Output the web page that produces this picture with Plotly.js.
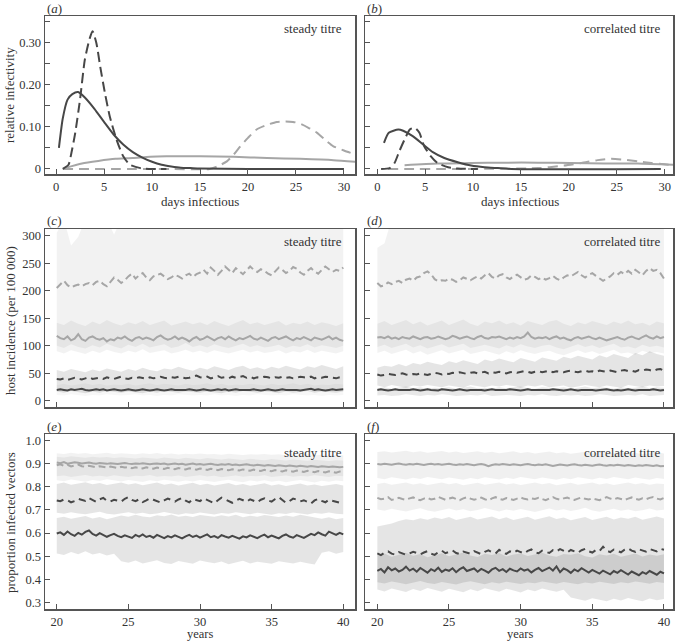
<!DOCTYPE html>
<html>
<head>
<meta charset="utf-8">
<script src="https://cdn.plot.ly/plotly-3.0.1.min.js"></script>
<style>
  html, body { margin: 0; padding: 0; background: #fff; }
  #chart { width: 676px; height: 642px; }
</style>
</head>
<body>
<div id="chart"></div>
<script>
/* ── data: relative infectivity curves (days infectious) ─────────── */
const aDaysDS = [0.3, 0.7, 1.2, 1.7, 2.3, 3, 4, 5, 6, 7, 8, 9, 10, 11, 12, 13, 14, 15, 20, 25, 30];
const aDS = [0.050, 0.120, 0.165, 0.178, 0.183, 0.170, 0.143, 0.112, 0.082, 0.058, 0.040, 0.027, 0.017, 0.010, 0.006, 0.003, 0.002, 0.001, 0, 0, 0];
const aDaysDD = [0.7, 1.3, 1.6, 2, 2.5, 3, 3.5, 3.8, 4.2, 4.6, 5.1, 5.6, 6.3, 7, 7.7, 8.8, 10, 11.5];
const aDD = [0, 0.01, 0.038, 0.086, 0.165, 0.26, 0.31, 0.328, 0.30, 0.244, 0.18, 0.125, 0.07, 0.03, 0.01, 0.002, 0, 0];
const aDaysLD = [0.7, 12, 16, 16.8, 17.8, 18.5, 19.2, 20, 20.9, 22, 23, 23.9, 24.7, 25.4, 26.3, 27.2, 28, 28.9, 30, 31.2];
const aLD = [0, 0, 0, 0.006, 0.018, 0.034, 0.054, 0.074, 0.094, 0.105, 0.112, 0.113, 0.112, 0.108, 0.098, 0.086, 0.07, 0.054, 0.044, 0.034];
const aDaysLS = [0.9, 2.7, 4.4, 6.2, 8, 9.8, 11.5, 15, 18.5, 22, 25.4, 28.9, 31.2];
const aLS = [0.002, 0.013, 0.019, 0.024, 0.026, 0.029, 0.030, 0.030, 0.029, 0.026, 0.024, 0.021, 0.017];

const bDaysDS = [0.7, 1.2, 2.2, 2.7, 3.7, 4.8, 5.8, 7, 8.4, 9.8, 11.2, 12.6, 14, 29.6];
const bDS = [0.062, 0.086, 0.094, 0.091, 0.078, 0.058, 0.040, 0.026, 0.016, 0.008, 0.004, 0.002, 0, 0];
const bDaysDD = [0.4, 1.3, 1.8, 2.3, 2.85, 3.4, 3.9, 4.4, 4.9, 5.6, 6.3, 7.4, 8.4, 10.5];
const bDD = [0, 0.002, 0.014, 0.042, 0.07, 0.094, 0.098, 0.086, 0.054, 0.03, 0.014, 0.004, 0.001, 0];
const bDaysLD = [1.1, 16.8, 19.5, 21.3, 23, 24.4, 25.8, 27.2, 28.6, 30, 30.9];
const bLD = [0, 0.002, 0.008, 0.014, 0.021, 0.024, 0.022, 0.018, 0.014, 0.011, 0.009];
const bDaysLS = [2.85, 6.3, 9.8, 13.3, 16.8, 20.2, 23.7, 27.2, 30.9];
const bLS = [0.009, 0.013, 0.014, 0.015, 0.015, 0.014, 0.013, 0.013, 0.010];

/* ── data: host incidence, steady titre (quarter-year means) ─────── */
const cLD = [205,212,218,210,206,209,211,208,212,214, 210,216,218,212,208,216,224,220,214,219,
  226,231,222,228,232,224,219,226,229,231, 226,221,224,229,226,222,228,231,225,230,
  233,238,231,242,236,229,236,244,238,232, 241,236,230,237,244,238,234,239,236,231,
  228,235,242,238,232,236,243,240,233,229, 236,241,235,231,238,244,239,234,238,236, 242];
const cLS = [118,114,112,117,110,113,121,112,109,115, 117,113,111,114,108,112,110,115,113,117,
  112,109,114,116,112,115,113,110,116,119, 114,111,113,117,112,115,112,108,113,116,
  111,113,117,114,110,114,116,112,117,113, 110,114,112,115,118,113,111,115,112,109,
  114,116,112,115,117,113,110,114,112,116, 113,110,115,113,111,114,117,112,115,111, 109];
const cDD = [40,39,41,38,40,42,40,39,41,43, 40,41,42,40,43,41,40,42,44,41,
  40,42,41,43,42,40,43,41,42,44, 42,41,43,42,44,43,41,42,44,46,
  43,42,44,41,43,45,42,43,41,44, 42,43,45,42,44,41,43,42,44,43,
  41,43,42,44,42,43,41,42,44,43, 42,44,41,43,42,44,43,42,41,43, 44];
const cDS = [20,21,20,19,21,20,21,22,20,19, 20,21,20,21,19,20,21,20,19,20,
  21,20,19,20,21,20,19,20,21,20, 19,20,21,20,20,19,20,21,20,19,
  20,21,20,19,20,21,20,21,19,20, 21,20,20,19,20,21,20,19,20,21,
  20,19,20,21,20,20,21,20,19,20, 21,22,20,21,20,19,20,21,20,20, 21];
/* bands (half-year) */
const cLDlo = [100,96,103,98,95,101,97,104,99,95, 102,98,104,97,100,103,96,99,105,98,
  101,97,103,99,96,100,104,98,101,97, 99,102,96,100,98,103,97,101,99,96, 100];
const cLDhi = [305,330,282,298,330,330,330,330,302,330, 330,330,330,330,330,330,330,330,330,330,
  330,330,330,330,330,330,330,330,330,330, 330,330,330,330,330,330,330,330,330,330, 330];
const cLSlo = [90,86,92,88,85,91,87,93,89,86, 91,88,94,87,90,92,86,89,93,88,
  91,87,92,89,86,90,93,88,91,87, 89,92,86,90,88,93,87,91,89,86, 90];
const cLShi = [142,138,146,140,136,144,139,147,141,137, 143,139,145,138,142,146,137,141,144,139,
  143,138,145,140,136,142,147,139,143,138, 141,145,137,142,139,144,138,143,140,136, 141];
const cDDlo = [17,15,18,16,14,17,15,18,16,15, 17,16,14,17,15,18,16,15,17,16,
  15,17,16,14,17,15,18,16,15,17, 16,14,17,15,16,18,15,17,16,15, 17];
const cDDhi = [56,53,58,55,52,57,54,59,56,53, 58,55,60,56,54,59,57,62,58,55,
  60,57,63,59,56,61,64,58,61,57, 62,59,64,60,57,63,60,65,61,58, 63];
const cDSlo = [11,10,12,10,9,11,10,12,11,10, 11,12,10,11,9,11,10,12,11,10,
  11,10,12,10,11,9,11,10,12,11, 10,11,10,12,11,10,11,9,11,10, 11];
const cDShi = [29,31,28,30,32,29,31,28,30,29, 31,28,30,32,29,31,30,28,31,29,
  30,32,29,31,28,30,29,31,30,28, 31,29,30,32,29,31,28,30,29,31, 30];

/* ── data: host incidence, correlated titre ──────────────────────── */
const dLD = [214,208,210,215,212,216,218,214,220,222, 218,224,226,232,235,230,221,217,219,218,
  222,220,216,219,224,221,219,223,226,222, 228,232,225,222,228,230,224,221,226,229,
  224,220,222,228,225,221,224,220,223,227, 222,219,224,228,226,230,234,228,224,229,
  232,227,222,218,222,226,232,229,234,230, 236,231,238,233,228,236,241,236,238,232, 222];
const dLS = [115,116,114,117,113,115,112,116,114,113, 117,114,112,115,116,113,114,117,115,112,
  114,118,116,113,115,117,114,112,116,118, 114,113,116,115,117,114,112,115,113,116,
  114,117,124,116,113,115,114,116,112,115, 117,113,115,112,110,114,116,113,115,117,
  114,112,115,113,110,112,114,116,113,111, 115,117,114,112,116,119,115,113,117,114, 116];
const dDD = [48,46,47,49,48,47,49,50,48,47, 49,48,50,49,47,49,51,50,48,50,
  49,51,50,52,51,49,51,52,50,51, 53,50,52,51,53,52,50,52,53,51,
  52,54,53,51,53,54,52,53,55,52, 54,53,52,54,55,53,52,54,55,53,
  54,52,55,54,53,55,54,52,55,56, 54,55,53,56,55,57,56,54,57,58, 55];
const dDS = [20,21,20,19,20,21,20,20,19,20, 21,20,19,20,21,20,20,19,21,20,
  20,19,20,21,20,19,20,20,21,20, 19,20,21,20,20,19,20,21,20,20,
  19,20,21,20,20,19,20,19,20,21, 20,20,19,20,21,20,19,20,20,21,
  20,19,20,20,21,20,19,20,19,20, 21,20,19,20,20,19,20,21,20,19, 20];
const dLDlo = [98,102,96,100,104,97,101,95,99,103, 97,100,104,96,99,102,98,95,101,97,
  103,99,96,100,102,97,94,99,103,98, 101,96,100,104,97,99,95,102,98,100, 97];
const dLDhi = [278,286,330,330,330,330,330,330,330,330, 330,330,330,330,330,330,330,330,330,330,
  330,330,330,330,330,330,330,330,330,330, 330,330,330,330,330,330,330,330,330,330, 330];
const dLSlo = [87,91,85,89,93,86,90,84,88,92, 86,89,93,85,88,91,87,84,90,86,
  92,88,85,89,91,86,83,88,92,87, 90,85,89,93,86,88,84,91,87,89, 86];
const dLShi = [140,145,138,143,147,139,144,137,142,146, 138,143,148,140,136,144,141,146,139,143,
  137,145,142,138,144,147,140,136,143,139, 145,141,138,144,140,146,139,142,137,144, 141];
const dDDlo = [28,25,29,26,24,28,26,29,27,25, 28,26,24,29,27,25,28,26,29,27,
  24,28,26,29,25,27,28,24,26,29, 27,25,28,26,24,29,27,25,28,26, 27];
const dDDhi = [60,64,62,67,63,69,66,71,68,65, 72,69,74,70,67,75,72,77,73,70,
  78,74,71,79,76,73,80,77,82,78, 75,83,79,85,81,78,87,83,90,85, 82];
const dDSlo = [10,11,9,10,12,10,9,11,10,12, 11,9,10,11,10,12,9,10,11,10,
  9,11,10,12,10,9,11,10,11,9, 10,12,11,9,10,11,10,12,9,10, 11];
const dDShi = [23,25,22,24,26,23,25,22,24,23, 25,22,24,26,23,24,22,25,23,24,
  26,23,22,25,24,23,25,22,24,26, 23,25,24,22,25,23,24,26,23,25, 24];

/* ── data: proportion infected vectors, steady titre ─────────────── */
const eLS = [0.905,0.902,0.907,0.900,0.903,0.906,0.904,0.901,0.903,0.905, 0.902,0.900,0.903,0.901,0.899,0.902,0.900,0.898,0.901,0.903,
  0.900,0.898,0.901,0.899,0.902,0.900,0.897,0.899,0.901,0.898, 0.900,0.896,0.898,0.900,0.897,0.899,0.895,0.898,0.900,0.896,
  0.898,0.895,0.897,0.899,0.896,0.894,0.897,0.895,0.898,0.894, 0.896,0.893,0.895,0.897,0.894,0.892,0.895,0.893,0.891,0.894,
  0.892,0.890,0.893,0.891,0.889,0.892,0.890,0.888,0.891,0.889, 0.887,0.890,0.888,0.886,0.889,0.887,0.885,0.888,0.886,0.884, 0.886];
const eLD = [0.893,0.897,0.890,0.895,0.888,0.892,0.896,0.889,0.886,0.891, 0.888,0.884,0.889,0.886,0.883,0.887,0.885,0.881,0.886,0.883,
  0.885,0.880,0.884,0.882,0.879,0.884,0.881,0.878,0.883,0.880, 0.877,0.882,0.879,0.876,0.881,0.878,0.875,0.880,0.877,0.874,
  0.879,0.876,0.873,0.878,0.875,0.872,0.877,0.874,0.871,0.876, 0.873,0.870,0.875,0.872,0.869,0.874,0.871,0.868,0.873,0.870,
  0.867,0.872,0.869,0.866,0.871,0.868,0.865,0.870,0.867,0.864, 0.869,0.866,0.863,0.868,0.865,0.862,0.867,0.864,0.861,0.866, 0.866];
const eDD = [0.741,0.738,0.745,0.742,0.733,0.738,0.748,0.744,0.739,0.751, 0.742,0.735,0.746,0.752,0.740,0.737,0.744,0.741,0.736,0.748,
  0.755,0.743,0.738,0.746,0.734,0.741,0.750,0.744,0.737,0.732, 0.741,0.749,0.743,0.736,0.745,0.752,0.740,0.733,0.747,0.741,
  0.738,0.750,0.744,0.736,0.729,0.742,0.753,0.746,0.738,0.731, 0.740,0.748,0.742,0.735,0.746,0.739,0.733,0.744,0.750,0.741,
  0.736,0.747,0.755,0.743,0.731,0.738,0.749,0.744,0.737,0.742, 0.735,0.728,0.741,0.748,0.739,0.733,0.744,0.740,0.735,0.731, 0.738];
const eDS = [0.598,0.603,0.592,0.607,0.595,0.588,0.601,0.593,0.605,0.611, 0.596,0.589,0.600,0.593,0.584,0.591,0.597,0.588,0.582,0.590,
  0.586,0.579,0.592,0.585,0.594,0.583,0.588,0.580,0.592,0.586, 0.578,0.587,0.581,0.590,0.584,0.577,0.586,0.592,0.583,0.589,
  0.580,0.588,0.594,0.582,0.587,0.579,0.591,0.585,0.580,0.588, 0.583,0.576,0.586,0.581,0.590,0.584,0.578,0.587,0.593,0.582,
  0.589,0.583,0.577,0.588,0.594,0.585,0.580,0.591,0.586,0.579, 0.588,0.597,0.591,0.603,0.595,0.589,0.606,0.598,0.592,0.601, 0.594];
const eLSlo = [0.845,0.849,0.842,0.847,0.851,0.844,0.848,0.843,0.850,0.846, 0.842,0.848,0.845,0.851,0.843,0.847,0.844,0.849,0.842,0.846,
  0.850,0.844,0.848,0.841,0.846,0.849,0.843,0.847,0.845,0.850, 0.842,0.846,0.849,0.843,0.847,0.844,0.850,0.845,0.842,0.848, 0.845];
const eLShi = [0.945,0.942,0.947,0.943,0.946,0.941,0.944,0.947,0.942,0.945, 0.943,0.940,0.945,0.942,0.946,0.941,0.944,0.939,0.943,0.941,
  0.944,0.940,0.942,0.938,0.943,0.940,0.937,0.941,0.939,0.942, 0.938,0.940,0.936,0.939,0.937,0.940,0.936,0.938,0.935,0.937, 0.936];
const eLDlo = [0.828,0.824,0.831,0.826,0.822,0.829,0.825,0.832,0.827,0.823, 0.829,0.826,0.821,0.828,0.824,0.830,0.825,0.822,0.827,0.823,
  0.829,0.825,0.821,0.826,0.830,0.824,0.820,0.827,0.823,0.828, 0.822,0.826,0.820,0.825,0.829,0.823,0.819,0.826,0.822,0.827, 0.824];
const eLDhi = [0.930,0.927,0.932,0.928,0.925,0.930,0.926,0.929,0.924,0.928, 0.925,0.922,0.927,0.924,0.921,0.926,0.923,0.920,0.925,0.922,
  0.919,0.924,0.921,0.918,0.922,0.919,0.916,0.921,0.918,0.915, 0.920,0.917,0.914,0.918,0.915,0.912,0.917,0.914,0.911,0.915, 0.913];
const eDDlo = [0.688,0.683,0.690,0.685,0.681,0.687,0.692,0.684,0.680,0.686, 0.690,0.683,0.688,0.681,0.685,0.691,0.684,0.679,0.686,0.682,
  0.689,0.684,0.680,0.687,0.683,0.690,0.685,0.681,0.688,0.684, 0.679,0.686,0.682,0.689,0.685,0.680,0.687,0.683,0.689,0.684, 0.681];
const eDDhi = [0.812,0.818,0.809,0.815,0.820,0.811,0.816,0.808,0.814,0.819, 0.810,0.815,0.807,0.813,0.818,0.809,0.814,0.806,0.812,0.817,
  0.808,0.813,0.805,0.811,0.816,0.807,0.812,0.804,0.810,0.815, 0.806,0.811,0.803,0.809,0.814,0.805,0.810,0.803,0.808,0.812, 0.806];
const eDSlo = [0.512,0.505,0.518,0.509,0.521,0.507,0.514,0.503,0.511,
  0.478,0.472,0.481,0.469,0.476,0.483,0.471,0.466,0.479,0.474, 0.468,0.481,0.475,0.470,0.477,0.465,0.473,0.480,0.469,0.476,
  0.471,0.467,0.478,0.473,0.469,0.476,0.470,0.464, 0.515,0.522,0.511,0.518];
const eDShi = [0.665,0.671,0.662,0.668,0.674,0.663,0.669,0.660,0.667,
  0.676,0.670,0.679,0.672,0.668,0.677,0.673,0.680,0.671,0.675, 0.669,0.678,0.674,0.670,0.677,0.672,0.679,0.668,0.675,0.671,
  0.678,0.673,0.669,0.676,0.671,0.679,0.674,0.670, 0.662,0.668,0.660,0.665];

/* ── data: proportion infected vectors, correlated titre ─────────── */
const fLS = [0.898,0.896,0.899,0.897,0.895,0.898,0.900,0.897,0.895,0.898, 0.896,0.899,0.897,0.894,0.897,0.899,0.896,0.898,0.895,0.897,
  0.899,0.896,0.894,0.897,0.895,0.898,0.896,0.893,0.896,0.898, 0.895,0.889,0.894,0.897,0.895,0.898,0.896,0.894,0.897,0.895,
  0.893,0.896,0.898,0.895,0.893,0.896,0.894,0.897,0.895,0.890, 0.893,0.896,0.894,0.892,0.895,0.897,0.894,0.892,0.895,0.893,
  0.891,0.894,0.896,0.893,0.891,0.894,0.892,0.895,0.893,0.891, 0.894,0.892,0.890,0.893,0.891,0.894,0.892,0.890,0.893,0.889, 0.890];
const fLD = [0.752,0.746,0.749,0.755,0.743,0.748,0.752,0.747,0.744,0.750, 0.754,0.746,0.742,0.749,0.753,0.745,0.748,0.756,0.751,0.744,
  0.749,0.753,0.747,0.742,0.750,0.755,0.749,0.744,0.748,0.753, 0.746,0.741,0.750,0.755,0.748,0.744,0.751,0.747,0.743,0.749,
  0.754,0.748,0.745,0.750,0.747,0.752,0.746,0.742,0.749,0.755, 0.748,0.744,0.750,0.753,0.747,0.743,0.749,0.754,0.748,0.745,
  0.750,0.747,0.742,0.749,0.755,0.749,0.745,0.751,0.747,0.743, 0.749,0.754,0.748,0.744,0.750,0.746,0.752,0.756,0.749,0.745, 0.752];
const fDD = [0.512,0.505,0.515,0.521,0.511,0.507,0.518,0.513,0.506,0.512, 0.519,0.514,0.508,0.516,0.522,0.511,0.506,0.517,0.524,0.513,
  0.518,0.525,0.514,0.509,0.520,0.516,0.511,0.522,0.515,0.509, 0.519,0.525,0.517,0.512,0.528,0.516,0.510,0.521,0.515,0.524,
  0.518,0.512,0.523,0.529,0.517,0.513,0.524,0.519,0.514,0.526, 0.520,0.531,0.522,0.516,0.527,0.521,0.515,0.526,0.532,0.521,
  0.516,0.527,0.522,0.541,0.524,0.518,0.529,0.523,0.517,0.528, 0.534,0.524,0.519,0.530,0.525,0.520,0.531,0.526,0.521,0.532, 0.528];
const fDS = [0.437,0.445,0.430,0.452,0.439,0.447,0.434,0.441,0.455,0.438, 0.446,0.433,0.449,0.440,0.429,0.444,0.436,0.450,0.432,0.442,
  0.437,0.448,0.431,0.444,0.452,0.436,0.441,0.447,0.433,0.445, 0.438,0.429,0.443,0.450,0.437,0.444,0.432,0.446,0.439,0.434,
  0.447,0.438,0.443,0.430,0.441,0.449,0.436,0.444,0.451,0.438, 0.456,0.431,0.447,0.440,0.428,0.443,0.435,0.448,0.437,0.429,
  0.441,0.433,0.425,0.438,0.431,0.422,0.436,0.428,0.440,0.430, 0.421,0.434,0.426,0.418,0.431,0.424,0.436,0.428,0.420,0.433, 0.426];
const fLSlo = [0.838,0.833,0.841,0.836,0.831,0.839,0.834,0.842,0.837,0.832, 0.840,0.835,0.830,0.838,0.833,0.841,0.836,0.831,0.839,0.834,
  0.842,0.837,0.832,0.840,0.835,0.830,0.838,0.833,0.841,0.836, 0.831,0.839,0.834,0.842,0.837,0.832,0.840,0.835,0.830,0.838, 0.834];
const fLShi = [0.950,0.954,0.948,0.952,0.956,0.949,0.953,0.947,0.951,0.955, 0.948,0.952,0.946,0.950,0.954,0.947,0.951,0.945,0.949,0.953,
  0.946,0.950,0.944,0.948,0.952,0.945,0.949,0.943,0.947,0.951, 0.944,0.948,0.942,0.946,0.950,0.943,0.947,0.941,0.945,0.949, 0.944];
const fLDlo = [0.702,0.696,0.705,0.699,0.693,0.701,0.707,0.698,0.692,0.700, 0.706,0.697,0.703,0.694,0.700,0.708,0.699,0.693,0.702,0.696,
  0.704,0.698,0.691,0.700,0.706,0.697,0.703,0.695,0.701,0.709, 0.698,0.692,0.700,0.705,0.696,0.702,0.694,0.699,0.706,0.697, 0.701];
const fLDhi = [0.812,0.817,0.809,0.814,0.819,0.810,0.815,0.808,0.813,0.818, 0.811,0.816,0.807,0.812,0.817,0.809,0.814,0.819,0.810,0.815,
  0.808,0.813,0.818,0.811,0.816,0.807,0.812,0.817,0.809,0.814, 0.819,0.810,0.815,0.808,0.813,0.818,0.811,0.816,0.809,0.814, 0.812];
const fDDlo = [0.388,0.382,0.391,0.385,0.379,0.387,0.393,0.384,0.380,0.389, 0.383,0.378,0.386,0.392,0.384,0.379,0.388,0.382,0.390,0.385,
  0.380,0.387,0.383,0.391,0.386,0.381,0.389,0.384,0.379,0.387, 0.382,0.390,0.385,0.380,0.388,0.383,0.391,0.386,0.381,0.389, 0.384];
const fDDhi = [0.628,0.635,0.641,0.652,0.660,0.655,0.664,0.658,0.667,0.661, 0.669,0.657,0.663,0.671,0.659,0.666,0.672,0.660,0.668,0.656,
  0.664,0.670,0.658,0.666,0.673,0.661,0.667,0.655,0.663,0.669, 0.657,0.665,0.671,0.659,0.667,0.662,0.670,0.658,0.666,0.672, 0.663];
const fDSlo = [0.356,0.348,0.361,0.352,0.345,0.358,0.350,0.363,0.354,0.347, 0.359,0.351,0.344,0.357,0.349,0.362,0.353,0.346,0.360,0.352,
  0.343,0.356,0.349,0.361,0.353,0.347,0.355, 0.322,0.314,0.308,0.318,0.311,0.305,0.316,0.309,0.320,0.312,0.306,0.317,0.310,0.315];
const fDShi = [0.505,0.512,0.498,0.508,0.515,0.502,0.510,0.496,0.506,0.513, 0.500,0.509,0.516,0.503,0.497,0.511,0.505,0.514,0.499,0.507,
  0.512,0.501,0.508,0.515,0.503,0.498,0.510,0.506,0.513,0.500, 0.495,0.508,0.503,0.511,0.498,0.505,0.512,0.499,0.507,0.502, 0.509];

/* ── styling ─────────────────────────────────────────────────────── */
const W = 676, H = 642;
const FONT = "'Liberation Serif', 'DejaVu Serif', serif";
const DARK = '#474747';
const LIGHT = '#a6a6a6';
const AXIS = '#555555';

// years from 20 to 40 spread evenly over the samples of a series
const yearsFor = arr => arr.map((_, i) => 20 + 20 * i / (arr.length - 1));

const traces = [];

function band(xa, ya, lo, hi, alpha) {
  const xs = yearsFor(lo);
  traces.push({
    type: 'scatter', mode: 'lines', xaxis: xa, yaxis: ya,
    x: xs.concat(xs.slice().reverse()),
    y: hi.concat(lo.slice().reverse()),
    fill: 'toself', fillcolor: `rgba(0,0,0,${alpha})`,
    line: { width: 0 }, hoverinfo: 'skip', showlegend: false,
  });
}

function line(xa, ya, x, y, color, dash, shape) {
  traces.push({
    type: 'scatter', mode: 'lines', xaxis: xa, yaxis: ya,
    x: x, y: y,
    line: { color, width: 2, dash: dash || 'solid', shape: shape || 'linear', smoothing: 0.6 },
    showlegend: false,
  });
}

// top row
line('x', 'y', aDaysLS, aLS, LIGHT, 'solid', 'spline');
line('x', 'y', aDaysLD, aLD, LIGHT, '10px,6px', 'spline');
line('x', 'y', aDaysDS, aDS, DARK, 'solid', 'spline');
line('x', 'y', aDaysDD, aDD, DARK, '10px,5px', 'spline');
line('x2', 'y2', bDaysLS, bLS, LIGHT, 'solid', 'spline');
line('x2', 'y2', bDaysLD, bLD, LIGHT, '10px,6px', 'spline');
line('x2', 'y2', bDaysDS, bDS, DARK, 'solid', 'spline');
line('x2', 'y2', bDaysDD, bDD, DARK, '10px,5px', 'spline');

// middle row
band('x3', 'y3', cLDlo, cLDhi, 0.05);
band('x3', 'y3', cLSlo, cLShi, 0.05);
band('x3', 'y3', cDDlo, cDDhi, 0.10);
band('x3', 'y3', cDSlo, cDShi, 0.03);
band('x4', 'y4', dLDlo, dLDhi, 0.05);
band('x4', 'y4', dLSlo, dLShi, 0.05);
band('x4', 'y4', dDDlo, dDDhi, 0.10);
band('x4', 'y4', dDSlo, dDShi, 0.09);
line('x3', 'y3', yearsFor(cLD), cLD, LIGHT, '7px,4px');
line('x3', 'y3', yearsFor(cLS), cLS, LIGHT);
line('x3', 'y3', yearsFor(cDD), cDD, DARK, '7px,5px');
line('x3', 'y3', yearsFor(cDS), cDS, DARK);
line('x4', 'y4', yearsFor(dLD), dLD, LIGHT, '7px,4px');
line('x4', 'y4', yearsFor(dLS), dLS, LIGHT);
line('x4', 'y4', yearsFor(dDD), dDD, DARK, '7px,5px');
line('x4', 'y4', yearsFor(dDS), dDS, DARK);

// bottom row
band('x5', 'y5', eLSlo, eLShi, 0.05);
band('x5', 'y5', eLDlo, eLDhi, 0.05);
band('x5', 'y5', eDDlo, eDDhi, 0.10);
band('x5', 'y5', eDSlo, eDShi, 0.10);
band('x6', 'y6', fLSlo, fLShi, 0.06);
band('x6', 'y6', fLDlo, fLDhi, 0.06);
band('x6', 'y6', fDDlo, fDDhi, 0.10);
band('x6', 'y6', fDSlo, fDShi, 0.10);
line('x5', 'y5', yearsFor(eLS), eLS, LIGHT);
line('x5', 'y5', yearsFor(eLD), eLD, LIGHT, '7px,4px');
line('x5', 'y5', yearsFor(eDD), eDD, DARK, '7px,5px');
line('x5', 'y5', yearsFor(eDS), eDS, DARK);
line('x6', 'y6', yearsFor(fLS), fLS, LIGHT);
line('x6', 'y6', yearsFor(fLD), fLD, LIGHT, '7px,4px');
line('x6', 'y6', yearsFor(fDD), fDD, DARK, '7px,5px');
line('x6', 'y6', yearsFor(fDS), fDS, DARK);

/* ── axes ────────────────────────────────────────────────────────── */
function axis(domainPx, range, extra, vertical) {
  const dom = vertical
    ? [1 - domainPx[1] / H, 1 - domainPx[0] / H]
    : [domainPx[0] / W, domainPx[1] / W];
  return Object.assign({
    domain: dom, range,
    showline: true, mirror: true, linecolor: AXIS, linewidth: 1.5,
    ticks: 'inside', ticklen: 5, tickwidth: 1, tickcolor: AXIS,
    showgrid: false, zeroline: false, fixedrange: true,
    tickfont: { family: FONT, size: 12.5, color: '#333' },
  }, extra);
}

const LEFT = [45, 355], RIGHT = [365, 673];
const ROW1 = [16, 174], ROW2 = [229, 407], ROW3 = [434, 609];

const infTicks = { tickmode: 'array', tickvals: [0, 0.05, 0.1, 0.15, 0.2, 0.25, 0.3, 0.35], ticktext: ['0', '', '0.10', '', '0.20', '', '0.30', ''] };
const dayTicks = { tickmode: 'linear', tick0: 0, dtick: 5 };
const yrTicks = { tickmode: 'linear', tick0: 20, dtick: 5 };
const incTicks = { tickmode: 'linear', tick0: 0, dtick: 50 };
const propTicks = { tickmode: 'linear', tick0: 0.3, dtick: 0.1, tickformat: '.1f' };

const layout = {
  width: W, height: H,
  margin: { l: 0, r: 0, t: 0, b: 0 },
  paper_bgcolor: '#fff', plot_bgcolor: '#fff',
  font: { family: FONT, size: 13, color: '#333' },
  showlegend: false,
  xaxis: axis(LEFT, [-1.15, 31.15], Object.assign({ anchor: 'y' }, dayTicks)),
  yaxis: axis(ROW1, [-0.012, 0.364], Object.assign({ anchor: 'x' }, infTicks), true),
  xaxis2: axis(RIGHT, [-1.28, 30.87], Object.assign({ anchor: 'y2' }, dayTicks)),
  yaxis2: axis(ROW1, [-0.012, 0.364], Object.assign({ anchor: 'x2', showticklabels: false }, infTicks), true),
  xaxis3: axis(LEFT, [19.18, 40.82], Object.assign({ anchor: 'y3', showticklabels: false }, yrTicks)),
  yaxis3: axis(ROW2, [-11, 312], Object.assign({ anchor: 'x3' }, incTicks), true),
  xaxis4: axis(RIGHT, [19.14, 40.63], Object.assign({ anchor: 'y4', showticklabels: false }, yrTicks)),
  yaxis4: axis(ROW2, [-11, 312], Object.assign({ anchor: 'x4', showticklabels: false }, incTicks), true),
  xaxis5: axis(LEFT, [19.18, 40.82], Object.assign({ anchor: 'y5' }, yrTicks)),
  yaxis5: axis(ROW3, [0.272, 1.028], Object.assign({ anchor: 'x5' }, propTicks), true),
  xaxis6: axis(RIGHT, [19.14, 40.63], Object.assign({ anchor: 'y6' }, yrTicks)),
  yaxis6: axis(ROW3, [0.272, 1.028], Object.assign({ anchor: 'x6', showticklabels: false }, propTicks), true),
  annotations: [],
};

function note(text, px, py, opts) {
  layout.annotations.push(Object.assign({
    text, xref: 'paper', yref: 'paper',
    x: px / W, y: 1 - py / H,
    xanchor: 'center', yanchor: 'middle', showarrow: false,
    font: { family: FONT, size: 13, color: '#333' },
  }, opts || {}));
}

// panel letters
note('(<i>a</i>)', 45, 8, { xanchor: 'left' });
note('(<i>b</i>)', 365, 8, { xanchor: 'left' });
note('(<i>c</i>)', 45, 220, { xanchor: 'left' });
note('(<i>d</i>)', 365, 220, { xanchor: 'left' });
note('(<i>e</i>)', 45, 426, { xanchor: 'left' });
note('(<i>f</i>)', 365, 426, { xanchor: 'left' });

// in-panel labels
note('steady titre', 344, 29, { xanchor: 'right' });
note('correlated titre', 662, 29, { xanchor: 'right' });
note('steady titre', 344, 242, { xanchor: 'right' });
note('correlated titre', 662, 242, { xanchor: 'right' });
note('steady titre', 344, 452, { xanchor: 'right' });
note('correlated titre', 662, 452, { xanchor: 'right' });

// axis titles
const smallTitle = { family: FONT, size: 12.5, color: '#333' };
note('days infectious', 200, 202);
note('days infectious', 520, 202);
note('years', 200, 642, { yanchor: 'bottom', y: 0, borderpad: 0, font: smallTitle });
note('years', 520, 642, { yanchor: 'bottom', y: 0, borderpad: 0, font: smallTitle });
note('relative infectivity', 10, 95, { textangle: -90 });
note('host incidence (per 100 000)', 10, 321, { textangle: -90 });
note('proportion infected vectors', 10, 523, { textangle: -90 });

Plotly.newPlot('chart', traces, layout, { displayModeBar: false, staticPlot: true });
</script>
</body>
</html>
